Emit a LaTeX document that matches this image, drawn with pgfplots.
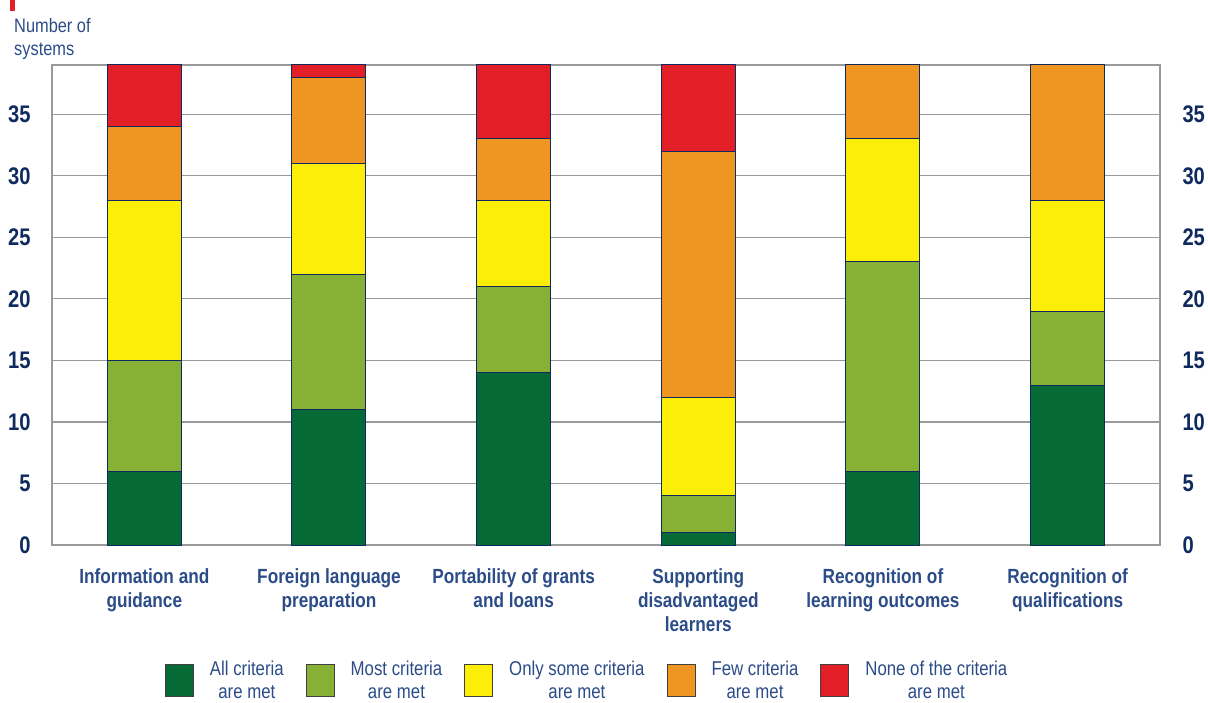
\documentclass[border=0pt]{standalone}
\usepackage{pgfplots}
\pgfplotsset{compat=1.18}
\usepackage{fontspec}
\setmainfont[FakeStretch=0.84]{Liberation Sans}
\definecolor{cDark}{HTML}{066A37}
\definecolor{cLight}{HTML}{86B135}
\definecolor{cYellow}{HTML}{FCEE08}
\definecolor{cOrange}{HTML}{EE9522}
\definecolor{cRed}{HTML}{E21F26}
\definecolor{cNavy}{HTML}{0E2A5E}
\definecolor{cBlue}{HTML}{2C4C88}
\definecolor{cGrid}{HTML}{9A9A9A}
\begin{document}
\begin{tikzpicture}[x=1pt,y=1pt]
\useasboundingbox (0,0) rectangle (1208,702);
\fill[cRed] (10,691) rectangle (15,702);
\node[anchor=north west, align=left, inner sep=0pt, font=\fontsize{19.5}{23}\selectfont, text=cBlue] at (14,684) {Number of\\systems};
\begin{axis}[
  at={(52pt,157pt)}, anchor=south west,
  width=1108pt, height=480pt, scale only axis,
  xmin=-0.5, xmax=5.5, ymin=0, ymax=39,
  ybar stacked, bar width=74pt,
  xtick={0,...,5},
  xticklabels={{Information and\\guidance},{Foreign language\\preparation},{Portability of grants\\and loans},{Supporting\\disadvantaged\\learners},{Recognition of\\learning outcomes},{Recognition of\\qualifications}},
  xticklabel style={align=center, font=\fontsize{20.5}{24}\selectfont\bfseries, text=cBlue, yshift=-20pt},
  ytick={0,5,...,35},
  yticklabel style={font=\fontsize{24}{28}\selectfont\bfseries, text=cNavy, xshift=-18pt},
  /pgf/number format/assume math mode=true,
  major tick length=0pt,
  ymajorgrids, grid style={cGrid, line width=1.2pt},
  axis line style={cGrid, line width=1.5pt},
  every axis plot/.append style={draw=cNavy, line width=1pt},
  legend style={at={(0.483,-0.283)}, anchor=center, draw=none, legend columns=5,
    font=\fontsize{20}{23}\selectfont, text=cBlue,
    nodes={align=center},
    /tikz/every odd column/.append style={column sep=14pt},
    /tikz/every even column/.append style={column sep=20pt}},
  legend image code/.code={\draw[#1, draw=black!75, line width=1pt] (0pt,-16pt) rectangle (28pt,16pt);},
]
\addplot[fill=cDark] coordinates {(0,6) (1,11) (2,14) (3,1) (4,6) (5,13)};
\addplot[fill=cLight] coordinates {(0,9) (1,11) (2,7) (3,3) (4,17) (5,6)};
\addplot[fill=cYellow] coordinates {(0,13) (1,9) (2,7) (3,8) (4,10) (5,9)};
\addplot[fill=cOrange] coordinates {(0,6) (1,7) (2,5) (3,20) (4,6) (5,11)};
\addplot[fill=cRed] coordinates {(0,5) (1,1) (2,6) (3,7) (4,0) (5,0)};
\legend{{All criteria\\are met},{Most criteria\\are met},{Only some criteria\\are met},{Few criteria\\are met},{None of the criteria\\are met}}
\end{axis}
\begin{axis}[
  at={(52pt,157pt)}, anchor=south west,
  width=1108pt, height=480pt, scale only axis,
  xmin=-0.5, xmax=5.5, ymin=0, ymax=39,
  axis y line*=right, hide x axis,
  ytick={0,5,...,35},
  yticklabel style={font=\fontsize{24}{28}\selectfont\bfseries, text=cNavy, xshift=19pt},
  /pgf/number format/assume math mode=true,
  major tick length=0pt,
  axis line style={cGrid, line width=1.5pt},
]
\end{axis}
\end{tikzpicture}
\end{document}
